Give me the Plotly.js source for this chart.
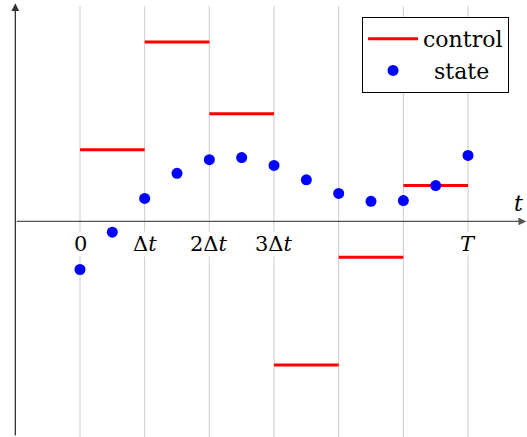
<!DOCTYPE html>
<html>
<head>
<meta charset="utf-8">
<script src="https://cdn.plot.ly/plotly-3.0.1.min.js"></script>
<style>html,body{margin:0;padding:0;background:#fff;}#chart{width:527px;height:437px;}</style>
</head>
<body>
<div id="chart"></div>
<script>
// Step boundaries (in units of Δt) and piecewise-constant control values
const stepStarts = [0, 1, 2, 3, 4, 5];
const stepEnds   = [1, 2, 3, 4, 5, 6];
const controlVals = [1.0, 2.5, 1.5, -2.0, -0.5, 0.5];

// State samples at half steps
const stateTimes = [0, 0.5, 1, 1.5, 2, 2.5, 3, 3.5, 4, 4.5, 5, 5.5, 6];
const stateVals  = [-0.67, -0.15, 0.32, 0.67, 0.86, 0.89, 0.78, 0.58, 0.39, 0.28, 0.29, 0.5, 0.92];

// Grid positions and tick labels
const gridVals  = [0, 1, 2, 3, 4, 5, 6];
const tickVals  = [0, 1, 2, 3, 6];
const tickTexts = ['0', 'Δ<i>t</i>', '2Δ<i>t</i>', '3Δ<i>t</i>', '<i>T</i>'];

const FONT = 'DejaVu Serif';

const cx = [], cy = [];
for (let i = 0; i < controlVals.length; i++) {
  cx.push(stepStarts[i], stepEnds[i], null);
  cy.push(controlVals[i], controlVals[i], null);
}

const traces = [
  {x: cx, y: cy, mode: 'lines', name: 'control', line: {color: '#ff0000', width: 3}, cliponaxis: false},
  {x: stateTimes, y: stateVals, mode: 'markers', name: '\u2002state', marker: {color: '#0000ff', size: 11}, cliponaxis: false}
];

const Y0 = -3.004, Y1 = 3.085;

const shapes = gridVals.map(v => ({
  type: 'line', xref: 'x', yref: 'y', x0: v, x1: v, y0: Y0, y1: 3.0,
  line: {color: '#cccccc', width: 1}, layer: 'below'
}));

const annotations = tickVals.map((v, i) => ({
  x: v, y: 0, xref: 'x', yref: 'y', text: tickTexts[i], showarrow: false,
  yanchor: 'top', yshift: -10, bgcolor: '#ffffff', borderpad: 0,
  font: {family: FONT, size: 21, color: '#000'}
}));
// axes with arrows
annotations.push({x: -1, y: 3.04, ax: -1, ay: Y0, xref: 'x', yref: 'y', axref: 'x', ayref: 'y',
  showarrow: true, arrowhead: 2, arrowsize: 1.2, arrowwidth: 1.3, arrowcolor: '#333', text: ''});
annotations.push({x: 6.9, y: 0, ax: -1, ay: 0, xref: 'x', yref: 'y', axref: 'x', ayref: 'y',
  showarrow: true, arrowhead: 2, arrowsize: 1.2, arrowwidth: 1.3, arrowcolor: '#555', text: ''});
annotations.push({x: 6.78, y: 0, xref: 'x', yref: 'y', text: '<i>t</i>', showarrow: false,
  yanchor: 'bottom', yshift: 3, font: {family: FONT, size: 22, color: '#000'}});

const layout = {
  width: 527, height: 437,
  margin: {l: 0, r: 0, t: 0, b: 0},
  paper_bgcolor: '#fff', plot_bgcolor: '#fff',
  font: {family: FONT},
  showlegend: true,
  legend: {x: 0.687, y: 0.961, xanchor: 'left', yanchor: 'top', bgcolor: '#fff',
    bordercolor: '#000', borderwidth: 1, font: {family: FONT, size: 22, color: '#000'},
    itemwidth: 50, tracegroupgap: 0},
  xaxis: {range: [-1.237, 6.912], showticklabels: false, ticks: '',
    showgrid: false, zeroline: false, showline: false, fixedrange: true},
  yaxis: {range: [Y0, Y1], showticklabels: false, ticks: '', showgrid: false,
    zeroline: false, showline: false, fixedrange: true},
  shapes: shapes,
  annotations: annotations
};

Plotly.newPlot('chart', traces, layout, {displayModeBar: false, staticPlot: true});
</script>
</body>
</html>
